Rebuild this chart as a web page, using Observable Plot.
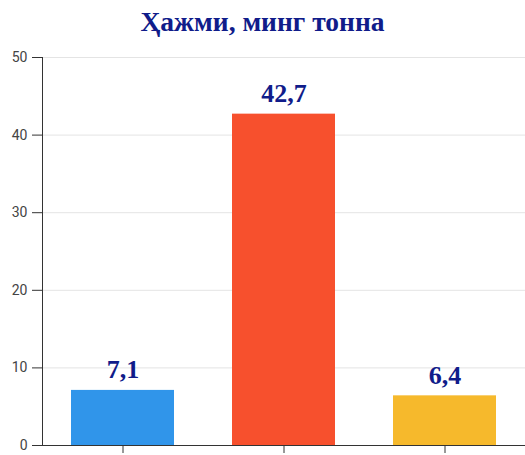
<!DOCTYPE html>
<html><head><meta charset="utf-8">
<script src="https://cdn.jsdelivr.net/npm/d3@7"></script>
<script src="https://cdn.jsdelivr.net/npm/@observablehq/plot@0.6"></script>
<style>
body{margin:0;background:#fff;}
#title{height:40px;line-height:44px;text-align:center;font-family:"Liberation Serif","DejaVu Serif",serif;font-weight:bold;font-size:27.5px;color:#101c8a;}
</style></head><body>
<div id="title">Ҳажми, минг тонна</div>
<div id="chart"></div>
<script>
const categories = ["A", "B", "C"];
const values = [7.1, 42.7, 6.4];
const labels = ["7,1", "42,7", "6,4"];
const colors = ["#3095ea", "#f7502d", "#f6b92c"];
const yTicks = [0, 10, 20, 30, 40, 50];

const data = categories.map((c, i) => ({cat: c, value: values[i], label: labels[i], color: colors[i]}));

const chart = Plot.plot({
  width: 525,
  height: 415,
  marginTop: 17,
  marginBottom: 10,
  marginLeft: 42,
  marginRight: 0,
  style: {fontFamily: "Roboto, sans-serif", fontSize: "14px", color: "#444", background: "#fff"},
  x: {domain: categories, paddingInner: 0.36, paddingOuter: 0.18, axis: null},
  y: {domain: [0, 50], ticks: yTicks, axis: null, label: null},
  marks: [
    Plot.gridY(yTicks, {stroke: "#e4e4e4", strokeOpacity: 1}),
    Plot.barY(data, {x: "cat", y: "value", fill: "color"}),
    Plot.axisY(yTicks, {tickSize: 10, tickPadding: 5, fill: "#444", stroke: "#333", fontSize: 14, label: null}),
    Plot.frame({anchor: "left", stroke: "#333"}),
    Plot.ruleY([0], {stroke: "#333"}),
    Plot.axisX({tickSize: 8, tickFormat: () => "", label: null, stroke: "#333"}),
    Plot.text(data, {x: "cat", y: "value", text: "label", dy: -12, lineAnchor: "bottom", fill: "#101c8a", fontFamily: "Liberation Serif, DejaVu Serif, serif", fontWeight: "bold", fontSize: 26})
  ]
});
document.getElementById("chart").appendChild(chart);
</script>
</body></html>
